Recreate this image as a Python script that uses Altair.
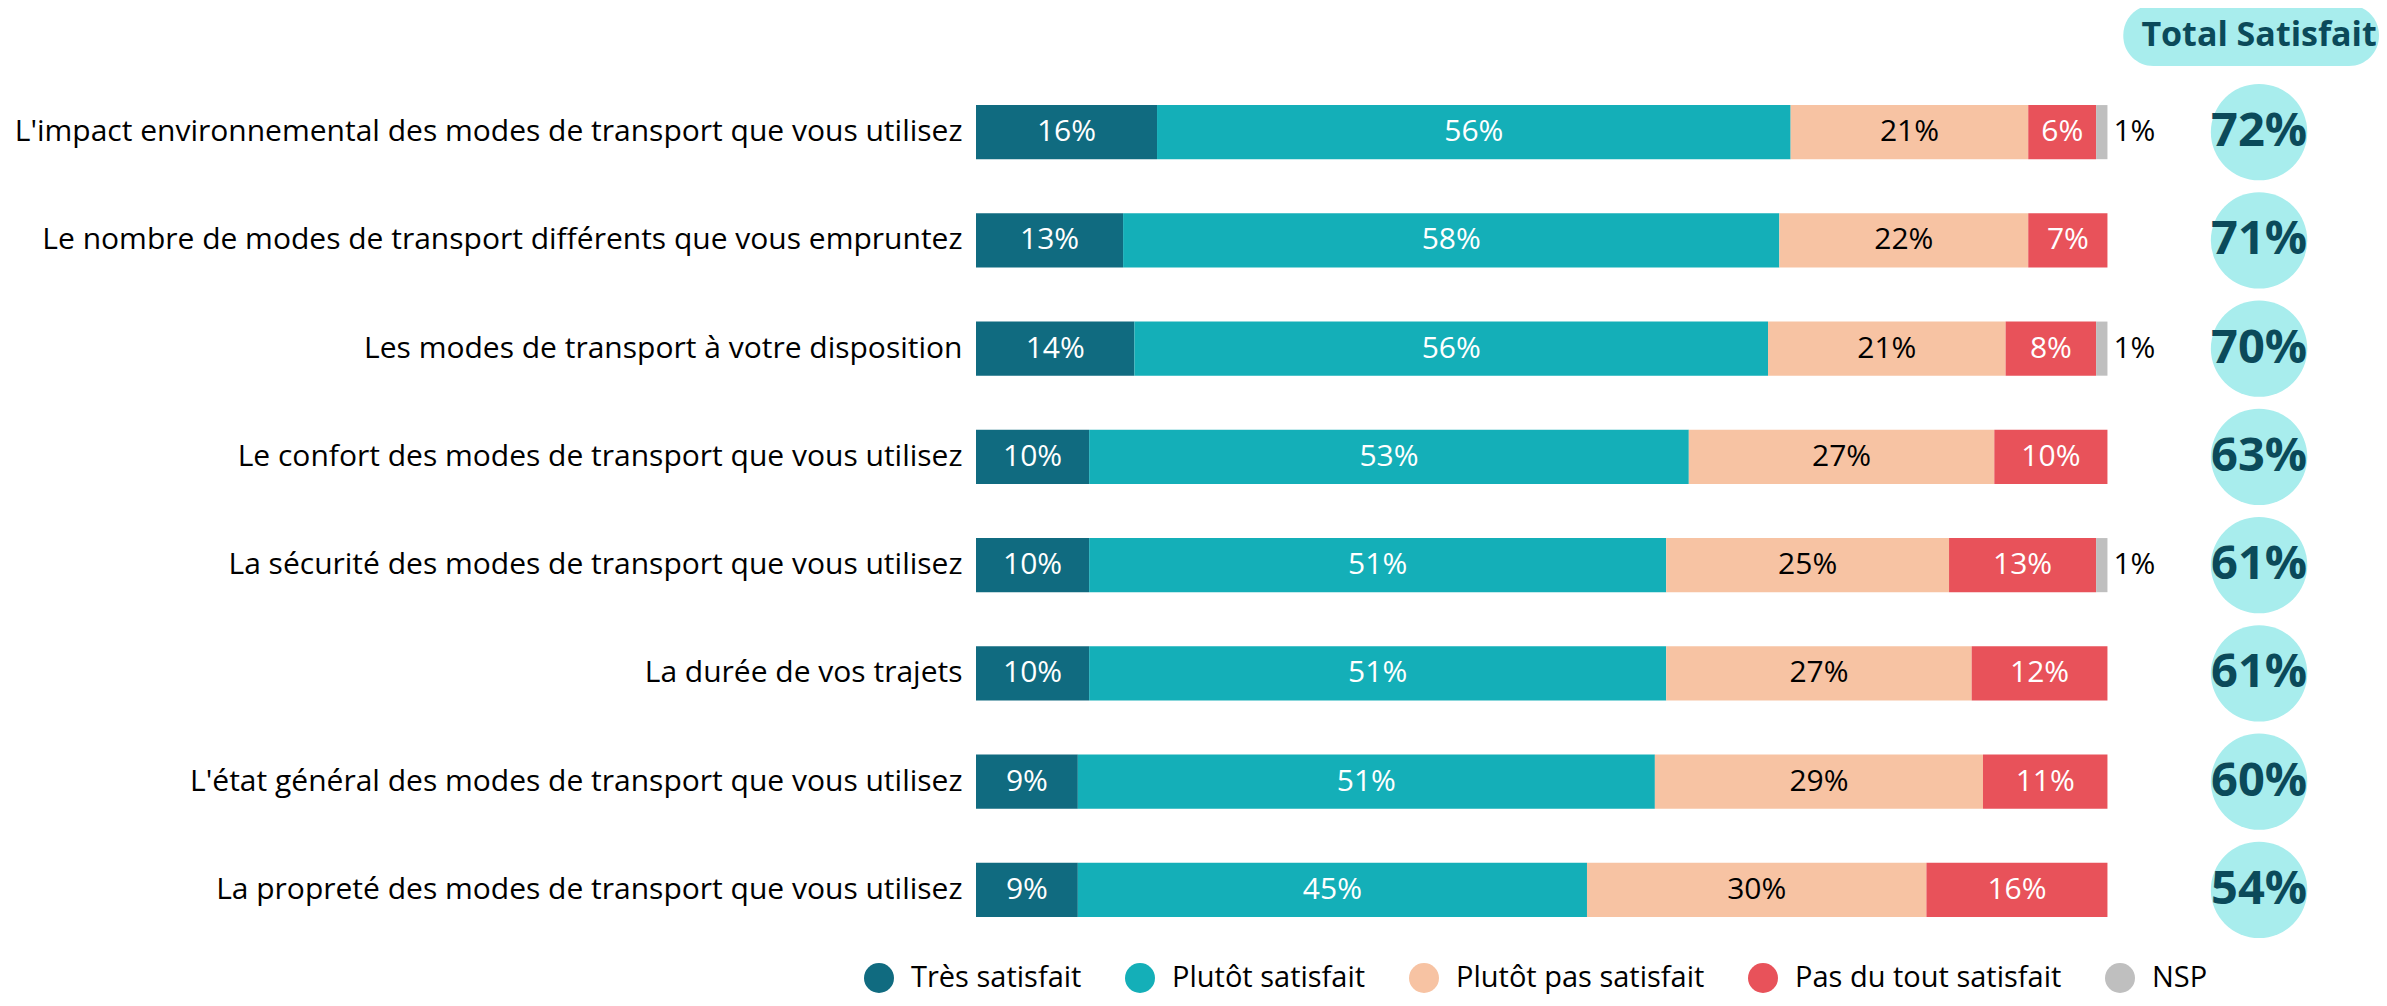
import altair as alt
import pandas as pd

items = [
    "L'impact environnemental des modes de transport que vous utilisez",
    "Le nombre de modes de transport différents que vous empruntez",
    "Les modes de transport à votre disposition",
    "Le confort des modes de transport que vous utilisez",
    "La sécurité des modes de transport que vous utilisez",
    "La durée de vos trajets",
    "L'état général des modes de transport que vous utilisez",
    "La propreté des modes de transport que vous utilisez",
]
categories = ["Très satisfait", "Plutôt satisfait", "Plutôt pas satisfait", "Pas du tout satisfait", "NSP"]
colors = ["#106B80", "#14AFB8", "#F7C3A3", "#E8525A", "#BFBFBF"]

tres = [16, 13, 14, 10, 10, 10, 9, 9]
plutot = [56, 58, 56, 53, 51, 51, 51, 45]
plutot_pas = [21, 22, 21, 27, 25, 27, 29, 30]
pas_du_tout = [6, 7, 8, 10, 13, 12, 11, 16]
nsp = [1, 0, 1, 0, 1, 0, 0, 0]
total_satisfait = [72, 71, 70, 63, 61, 61, 60, 54]

series = [tres, plutot, plutot_pas, pas_du_tout, nsp]

rows = []
for i, it in enumerate(items):
    start = 0
    for k, cat in enumerate(categories):
        v = series[k][i]
        rows.append({"item": it, "cat": cat, "value": v,
                     "start": start, "end": start + v, "mid": start + v / 2,
                     "label": f"{v}%"})
        start += v
df = pd.DataFrame(rows)

CX = 113.4
tot = pd.DataFrame({"item": items, "total": [f"{t}%" for t in total_satisfait],
                    "cx": [CX] * len(items)})

FONT = "Open Sans"
FS = 30
XMAX = 124.0
xscale = alt.Scale(domain=[0, XMAX], nice=False, zero=False)
yscale = alt.Scale(domain=items, paddingInner=0.5, paddingOuter=0.25)
yaxis = alt.Axis(title=None, domain=False, ticks=False, labelFontSize=FS,
                 labelFont=FONT, labelLimit=1200, labelPadding=14,
                 labelColor="#000000")


def Y():
    return alt.Y("item:N", sort=None, scale=yscale, axis=yaxis)


bars = alt.Chart(df).mark_bar().encode(
    x=alt.X("start:Q", scale=xscale, axis=None),
    x2="end:Q",
    y=Y(),
    color=alt.Color("cat:N",
                    scale=alt.Scale(domain=categories, range=colors),
                    legend=alt.Legend(title=None, orient="none", direction="horizontal",
                                      legendX=-113, legendY=884, symbolType="circle",
                                      symbolSize=900, labelFontSize=29, labelFont=FONT,
                                      labelColor="#000000", columnPadding=42,
                                      labelOffset=16, labelLimit=600)),
)

white_text = alt.Chart(df).transform_filter(
    "datum.value > 0 && datum.cat != 'Plutôt pas satisfait' && datum.cat != 'NSP'"
).mark_text(color="white", fontSize=FS, font=FONT).encode(
    x=alt.X("mid:Q", scale=xscale, axis=None), y=Y(), text="label:N")

black_text = alt.Chart(df).transform_filter(
    "datum.cat == 'Plutôt pas satisfait'"
).mark_text(color="black", fontSize=FS, font=FONT).encode(
    x=alt.X("mid:Q", scale=xscale, axis=None), y=Y(), text="label:N")

nsp_text = alt.Chart(df).transform_filter(
    "datum.cat == 'NSP' && datum.value > 0"
).mark_text(color="black", fontSize=FS, font=FONT, align="left", dx=6).encode(
    x=alt.X("end:Q", scale=xscale, axis=None), y=Y(), text="label:N")

circles = alt.Chart(tot).mark_circle(size=9300, color="#A8EDED", opacity=1).encode(
    x=alt.X("cx:Q", scale=xscale, axis=None), y=Y())

circle_text = alt.Chart(tot).mark_text(fontSize=47, font=FONT, fontWeight="bold",
                                       color="#0B4A5A").encode(
    x=alt.X("cx:Q", scale=xscale, axis=None), y=Y(), text="total:N")

header_df = pd.DataFrame({"x0": [101.4], "x1": [XMAX], "label": ["Total Satisfait"], "cx": [CX]})
pill = alt.Chart(header_df).mark_bar(color="#A8EDED", cornerRadius=30).encode(
    x=alt.X("x0:Q", scale=xscale, axis=None), x2="x1:Q",
    y=alt.value(-73), y2=alt.value(-12))
header_text = alt.Chart(header_df).mark_text(fontSize=34, font=FONT, fontWeight="bold",
                                             color="#0B4A5A").encode(
    x=alt.X("cx:Q", scale=xscale, axis=None), y=alt.value(-42), text="label:N")

chart = alt.layer(bars, white_text, black_text, nsp_text, circles, circle_text, pill, header_text).properties(
    width=1403, height=866,
    autosize=alt.AutoSizeParams(type="none"),
    padding={"left": 968, "top": 70, "right": 0, "bottom": 54},
    background="white",
).configure_view(stroke=None)

chart.save("out.html", embed_options={"renderer": "svg", "actions": False})
